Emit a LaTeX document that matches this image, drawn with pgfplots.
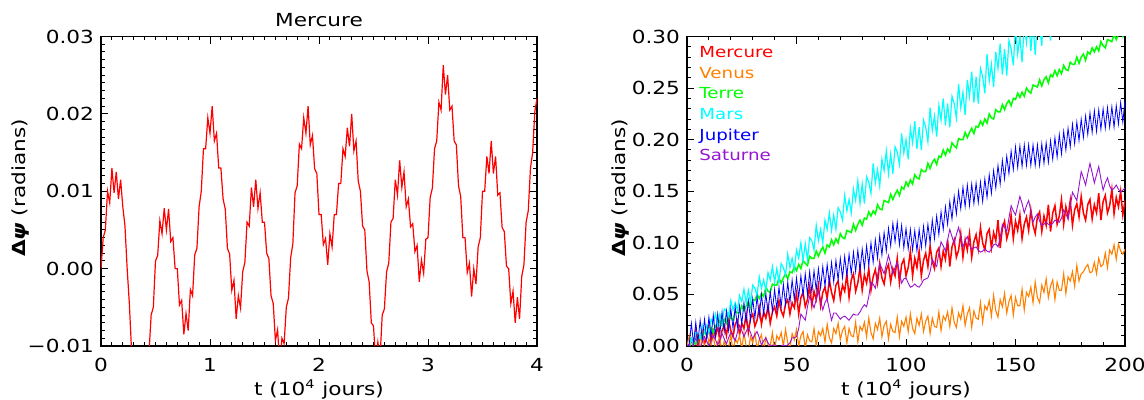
\documentclass[border=0pt]{standalone}
\usepackage{fontspec}
\setmainfont{DejaVu Sans}[FakeStretch=1.2]
\usepackage{pgfplots}
\usepackage{pgfplotstable}
\pgfplotsset{compat=1.18}
\definecolor{cmer}{RGB}{255,0,0}
\definecolor{cven}{RGB}{255,128,0}
\definecolor{cter}{RGB}{0,255,0}
\definecolor{cmar}{RGB}{0,255,255}
\definecolor{cjup}{RGB}{0,0,255}
\definecolor{csat}{RGB}{150,20,210}

\pgfplotsset{idl/.style={
  scale only axis, anchor=south west,
  axis line style={line width=0.6pt},
  tick align=inside, major tick length=3.6pt, minor tick length=1.8pt,
  every tick/.style={black, line width=0.5pt},
  xticklabel style={anchor=base, yshift=-13pt},
  xlabel style={at={(axis description cs:0.5,0)}, anchor=base, yshift=-25pt},
  title style={at={(0.5,1)}, anchor=base, yshift=-1pt},
  clip=true,
}}

% Mercure, 0..4 (10^4 jours), values in 10^-3 rad
\pgfplotstableread[row sep=\\]{
t v\\
0 0\\ 0.02 4\\ 0.04 5\\ 0.06 10\\ 0.08 8.5\\ 0.10 13\\ 0.12 9.8\\ 0.14 12.5\\ 0.16 9\\ 0.18 11.5\\
0.20 8\\ 0.22 5.5\\ 0.24 0\\ 0.26 -4.5\\ 0.28 -10.5\\ 0.30 -11\\ 0.32 -14.5\\ 0.34 -13\\ 0.36 -15\\ 0.38 -12.5\\
0.40 -14\\ 0.42 -10.5\\ 0.44 -11\\ 0.46 -6\\ 0.48 -5\\ 0.50 1\\ 0.52 1.7\\ 0.54 6.2\\ 0.56 4.5\\ 0.58 7.8\\
0.60 5\\ 0.62 7.7\\ 0.64 3.5\\ 0.66 4\\ 0.68 0\\ 0.70 0\\ 0.72 -4.7\\ 0.74 -4.1\\ 0.76 -8.5\\ 0.78 -5.8\\
0.80 -8\\ 0.82 -2.7\\ 0.84 -3.5\\ 0.86 1.8\\ 0.88 2.6\\ 0.90 8\\ 0.92 10\\ 0.94 15.5\\ 0.96 15.5\\ 0.98 19.5\\
1.00 17.5\\ 1.02 21\\ 1.04 16.5\\ 1.06 17.5\\ 1.08 13\\ 1.10 13\\ 1.12 9\\ 1.14 7.7\\ 1.16 2.6\\ 1.18 1.9\\
1.20 -2.8\\ 1.22 -1.5\\ 1.24 -6.5\\ 1.26 -3.5\\ 1.28 -5.1\\ 1.30 -0.4\\ 1.32 0.8\\ 1.34 6\\ 1.36 5.5\\ 1.38 10.5\\
1.40 8\\ 1.42 11.5\\ 1.44 7.8\\ 1.46 9.8\\ 1.48 6\\ 1.50 6\\ 1.52 2\\ 1.54 1.3\\ 1.56 -3.5\\ 1.58 -4.5\\
1.60 -9.3\\ 1.62 -7.9\\ 1.64 -12.5\\ 1.66 -9\\ 1.68 -9.7\\ 1.70 -5\\ 1.72 -3.8\\ 1.74 1.4\\ 1.76 3.2\\ 1.78 9.8\\
1.80 10.7\\ 1.82 16.1\\ 1.84 15.5\\ 1.86 19.5\\ 1.88 17.5\\ 1.90 21\\ 1.92 16\\ 1.94 17.2\\ 1.96 12.9\\ 1.98 12.3\\
2.00 7\\ 2.02 7\\ 2.04 3.1\\ 2.06 3.9\\ 2.08 0.5\\ 2.10 4.5\\ 2.12 2.8\\ 2.14 7\\ 2.16 7\\ 2.18 11\\
2.20 11\\ 2.22 15.5\\ 2.24 14.5\\ 2.26 18.2\\ 2.28 15.8\\ 2.30 20\\ 2.32 15.2\\ 2.34 16.5\\ 2.36 11.3\\ 2.38 10\\
2.40 5.5\\ 2.42 5\\ 2.44 -0.3\\ 2.46 -1.7\\ 2.48 -7\\ 2.50 -7.4\\ 2.52 -12.1\\ 2.54 -9.5\\ 2.56 -11.5\\ 2.58 -6\\
2.60 -5.2\\ 2.62 -0.4\\ 2.64 0.7\\ 2.66 6\\ 2.68 6.5\\ 2.70 11.5\\ 2.72 9.5\\ 2.74 14\\ 2.76 10.5\\ 2.78 12.5\\
2.80 8\\ 2.82 9\\ 2.84 5.4\\ 2.86 5.8\\ 2.88 2.2\\ 2.90 3\\ 2.92 -1.7\\ 2.94 1.1\\ 2.96 -0.6\\ 2.98 3.8\\
3.00 4\\ 3.02 9.2\\ 3.04 10.4\\ 3.06 15.5\\ 3.08 16.5\\ 3.10 21.5\\ 3.12 20.5\\ 3.14 26.3\\ 3.16 22.5\\ 3.18 25\\
3.20 20.5\\ 3.22 21\\ 3.24 16.5\\ 3.26 16\\ 3.28 10.7\\ 3.30 9.3\\ 3.32 4\\ 3.34 4\\ 3.36 -0.5\\ 3.38 0.7\\
3.40 -3.6\\ 3.42 0\\ 3.44 -2\\ 3.46 2.8\\ 3.48 4\\ 3.50 10\\ 3.52 10\\ 3.54 14.5\\ 3.56 12.3\\ 3.58 16.5\\
3.60 12.3\\ 3.62 14.5\\ 3.64 9.5\\ 3.66 9.8\\ 3.68 5.3\\ 3.70 4.8\\ 3.72 0.3\\ 3.74 0\\ 3.76 -4.5\\ 3.78 -2.9\\
3.80 -7\\ 3.82 -3.7\\ 3.84 -6.5\\ 3.86 -1\\ 3.88 0.5\\ 3.90 6\\ 3.92 7.5\\ 3.94 13\\ 3.96 15\\ 3.98 20.3\\
4.00 22\\
}\lefttab

% 6 planets, 0..200 (10^4 jours), values in 10^-3 rad
% columns: t Mercure Venus Terre Mars Jupiter Saturne
\pgfplotstableread[row sep=\\]{
t m v e r j s\\
0 0 0 0 0 0 0\\ 1 -4 10 -2 0 1 2\\ 2 6 -7 7 7 22 -3\\ 3 1 6 3 1 2 3\\ 4 15 2 2 13 23 7\\
5 -4 9 10 12 4 3\\ 6 10 -4 8 7 25 -2\\ 7 15 12 8 20 6 4\\ 8 2 -1 15 13 26 9\\ 9 8 -6 10 20 7 5\\
10 20 7 15 13 28 0\\ 11 4 1 18 26 9 5\\ 12 15 11 13 22 30 10\\ 13 9 -5 20 31 10 6\\ 14 20 4 19 21 31 1\\
15 4 8 25 31 12 6\\ 16 15 -8 20 22 33 12\\ 17 20 5 26 36 14 7\\ 18 10 -2 22 34 34 2\\ 19 25 -2 31 29 15 8\\
20 15 11 27 44 36 13\\ 21 9 -6 25 35 17 10\\ 22 21 7 34 42 38 5\\ 23 25 3 32 35 18 13\\ 24 11 10 32 49 39 20\\
25 22 -3 39 43 21 15\\ 26 17 13 34 55 42 9\\ 27 31 0 39 42 23 14\\ 28 13 -5 43 54 44 18\\ 29 27 9 37 42 25 13\\
30 31 3 45 59 46 7\\ 31 19 13 44 56 27 11\\ 32 25 -3 50 49 48 14\\ 33 37 6 46 67 29 8\\ 34 21 11 51 56 50 1\\
35 33 -5 48 64 31 5\\ 36 27 8 57 54 51 8\\ 37 39 1 53 71 32 3\\ 38 22 0 52 64 53 0\\ 39 33 13 60 77 34 1\\
40 38 -4 59 62 55 1\\ 41 29 10 59 75 36 0\\ 42 44 6 66 62 57 -1\\ 43 34 13 61 80 38 0\\ 44 29 0 66 76 60 1\\
45 41 16 70 69 40 0\\ 46 45 3 65 89 62 1\\ 47 31 -2 72 76 42 3\\ 48 42 12 71 85 64 8\\ 49 37 6 77 74 45 8\\
50 51 16 73 93 66 9\\ 51 31 0 79 85 47 17\\ 52 47 10 75 100 68 31\\ 53 52 14 83 83 49 28\\ 54 38 -2 80 99 70 25\\
55 45 11 78 84 50 38\\ 56 58 5 87 105 72 48\\ 57 39 4 85 102 52 43\\ 58 53 17 85 93 73 37\\ 59 45 0 92 117 54 45\\
60 59 14 87 102 75 53\\ 61 39 10 92 113 56 44\\ 62 52 17 96 100 77 35\\ 63 57 4 90 122 58 42\\ 64 46 21 98 113 79 46\\
65 64 8 96 129 60 35\\ 66 52 3 103 112 81 25\\ 67 44 17 98 127 62 32\\ 68 59 12 104 113 83 32\\ 69 63 22 100 134 64 29\\
70 46 6 109 130 85 26\\ 71 59 15 105 122 66 28\\ 72 53 19 104 146 87 29\\ 73 70 3 112 131 68 27\\ 74 47 17 111 142 89 25\\
75 64 10 110 129 70 28\\ 76 70 9 118 152 91 31\\ 77 53 23 112 141 72 30\\ 78 61 4 118 160 93 30\\ 79 76 19 122 138 73 33\\
80 54 15 117 157 94 37\\ 81 69 23 124 138 75 40\\ 82 61 9 123 164 97 38\\ 83 75 27 130 159 78 48\\ 84 54 13 126 148 100 62\\
85 67 7 131 177 81 60\\ 86 74 22 128 158 103 56\\ 87 61 16 137 171 85 68\\ 88 80 27 133 155 107 80\\ 89 66 9 132 181 88 75\\
90 60 20 141 170 110 70\\ 91 74 24 140 189 92 79\\ 92 79 7 139 167 114 88\\ 93 62 21 147 186 97 80\\ 94 75 14 142 167 119 70\\
95 68 13 147 193 101 76\\ 96 85 28 151 188 120 81\\ 97 61 9 146 176 98 71\\ 98 79 24 154 206 117 61\\ 99 84 19 152 187 95 65\\
100 68 28 159 200 114 66\\ 101 76 14 155 181 94 61\\ 102 92 31 161 211 113 57\\ 103 68 17 157 197 93 58\\ 104 85 12 166 218 112 60\\
105 76 27 163 191 92 58\\ 106 92 20 162 212 113 57\\ 107 68 31 171 190 95 60\\ 108 83 14 169 219 116 64\\ 109 90 24 169 212 97 65\\
110 77 29 177 198 118 66\\ 111 97 12 172 231 100 72\\ 112 82 27 178 209 122 84\\ 113 75 19 181 223 104 80\\ 114 91 18 176 203 126 77\\
115 95 33 184 233 108 90\\ 116 77 15 183 219 130 101\\ 117 92 29 190 240 113 97\\ 118 84 25 185 214 135 92\\ 119 103 33 191 235 118 103\\
120 77 19 188 212 140 113\\ 121 96 37 197 242 123 106\\ 122 103 23 194 235 145 99\\ 123 86 18 192 221 128 108\\ 124 93 32 201 254 150 115\\
125 109 26 200 231 133 106\\ 126 86 39 200 246 154 96\\ 127 103 20 207 224 135 102\\ 128 93 31 202 258 156 106\\ 129 109 37 207 242 136 98\\
130 86 18 211 266 157 94\\ 131 101 34 206 236 138 95\\ 132 108 27 213 261 158 96\\ 133 94 26 212 235 139 93\\ 134 115 42 218 269 159 91\\
135 100 23 214 261 140 92\\ 136 93 39 220 245 162 94\\ 137 109 35 216 283 144 92\\ 138 113 44 225 257 166 91\\ 139 95 29 221 273 148 94\\
140 110 49 220 251 170 98\\ 141 102 34 229 285 153 99\\ 142 122 28 227 269 175 96\\ 143 95 45 227 293 157 105\\ 144 114 38 234 263 180 118\\
145 121 51 229 288 162 115\\ 146 104 32 235 262 184 111\\ 147 112 43 238 296 167 124\\ 148 127 49 233 288 189 136\\ 149 104 30 240 272 171 131\\
150 121 47 239 310 193 127\\ 151 112 39 245 283 173 136\\ 152 127 39 241 300 194 145\\ 153 104 55 246 275 174 138\\ 154 118 35 242 311 195 129\\
155 125 52 250 294 175 136\\ 156 112 48 247 320 195 141\\ 157 132 57 245 286 175 131\\ 158 117 42 253 312 195 120\\ 159 109 62 252 282 175 125\\
160 125 47 251 319 195 128\\ 161 130 42 258 310 175 121\\ 162 111 59 252 291 196 117\\ 163 126 52 258 333 177 118\\ 164 117 65 261 303 197 120\\
165 137 47 255 321 178 118\\ 166 111 58 263 296 199 117\\ 167 129 64 261 332 181 119\\ 168 136 45 267 315 202 122\\ 169 118 62 262 340 183 121\\
170 126 54 268 307 205 120\\ 171 142 54 264 333 186 124\\ 172 118 70 272 303 208 132\\ 173 135 51 268 340 190 128\\ 174 125 67 267 330 211 123\\
175 141 63 275 312 193 135\\ 176 117 72 273 356 215 149\\ 177 132 58 273 323 196 145\\ 178 138 78 280 342 217 141\\ 179 125 63 274 314 199 155\\
180 145 70 280 355 220 169\\ 181 129 72 283 335 202 163\\ 182 122 76 277 363 223 156\\ 183 137 79 285 326 205 167\\ 184 142 71 283 354 226 177\\
185 123 72 289 322 207 168\\ 186 137 81 285 362 228 158\\ 187 129 70 290 351 208 166\\ 188 148 85 286 332 229 174\\ 189 122 77 295 376 210 162\\
190 140 79 291 344 230 151\\ 191 146 90 289 363 211 158\\ 192 129 76 297 335 231 163\\ 193 136 93 296 376 212 155\\ 194 152 89 295 355 232 151\\
195 128 98 302 384 212 153\\ 196 144 84 297 347 233 156\\ 197 135 99 302 375 215 152\\ 198 150 92 305 343 236 149\\ 199 127 89 300 382 217 151\\
200 141 94 307 372 238 153\\
}\righttab

\begin{document}
\begin{tikzpicture}[font=\fontsize{9}{11}\selectfont]
\useasboundingbox (0,0) rectangle (572pt,200pt);

\begin{axis}[idl,
  at={(50.5pt,27pt)}, width=218pt, height=154.75pt,
  xmin=0, xmax=4, ymin=-10, ymax=30,
  xtick={0,1,2,3,4}, xticklabels={0,1,2,3,4}, minor x tick num=9,
  ytick={-10,0,10,20,30}, yticklabels={−0.01,0.00,0.01,0.02,0.03}, minor y tick num=9,
  title={Mercure},
  xlabel={t (10\textsuperscript{4} jours)},
  ylabel={\textbf{Δ\textit{ψ}} (radians)},
  ylabel style={at={(axis description cs:-0.185,0.51)}, anchor=center},
]
\addplot[cmer, line width=0.6pt] table[x=t, y=v] \lefttab;
\end{axis}

\begin{axis}[idl,
  at={(343.5pt,27pt)}, width=219pt, height=154.75pt,
  xmin=0, xmax=200, ymin=0, ymax=300,
  xtick={0,50,100,150,200}, xticklabels={0,50,100,150,200}, minor x tick num=4,
  ytick={0,50,100,150,200,250,300},
  yticklabels={0.00,0.05,0.10,0.15,0.20,0.25,0.30}, minor y tick num=4,
  xlabel={t (10\textsuperscript{4} jours)},
  ylabel={\textbf{Δ\textit{ψ}} (radians)},
  ylabel style={at={(axis description cs:-0.151,0.51)}, anchor=center},
]
\addplot[cmer, line width=0.75pt] table[x=t, y=m] \righttab;
\addplot[cven, line width=0.55pt] table[x=t, y=v] \righttab;
\addplot[cter, line width=0.75pt] table[x=t, y=e] \righttab;
\addplot[cmar, line width=0.6pt] table[x=t, y=r] \righttab;
\addplot[cjup, line width=0.4pt] table[x=t, y=j] \righttab;
\addplot[csat, line width=0.45pt] table[x=t, y=s] \righttab;
\begin{scope}[every node/.style={anchor=base west, inner sep=0pt, font=\fontsize{7.6}{9}\selectfont}]
\node[text=cmer] at (rel axis cs:0.0274,0.9315) {Mercure};
\node[text=cven] at (rel axis cs:0.0274,0.8649) {Venus};
\node[text=cter] at (rel axis cs:0.0274,0.7984) {Terre};
\node[text=cmar] at (rel axis cs:0.0274,0.7318) {Mars};
\node[text=cjup] at (rel axis cs:0.0274,0.6652) {Jupiter};
\node[text=csat] at (rel axis cs:0.0274,0.5987) {Saturne};
\end{scope}
\end{axis}
\end{tikzpicture}
\end{document}
